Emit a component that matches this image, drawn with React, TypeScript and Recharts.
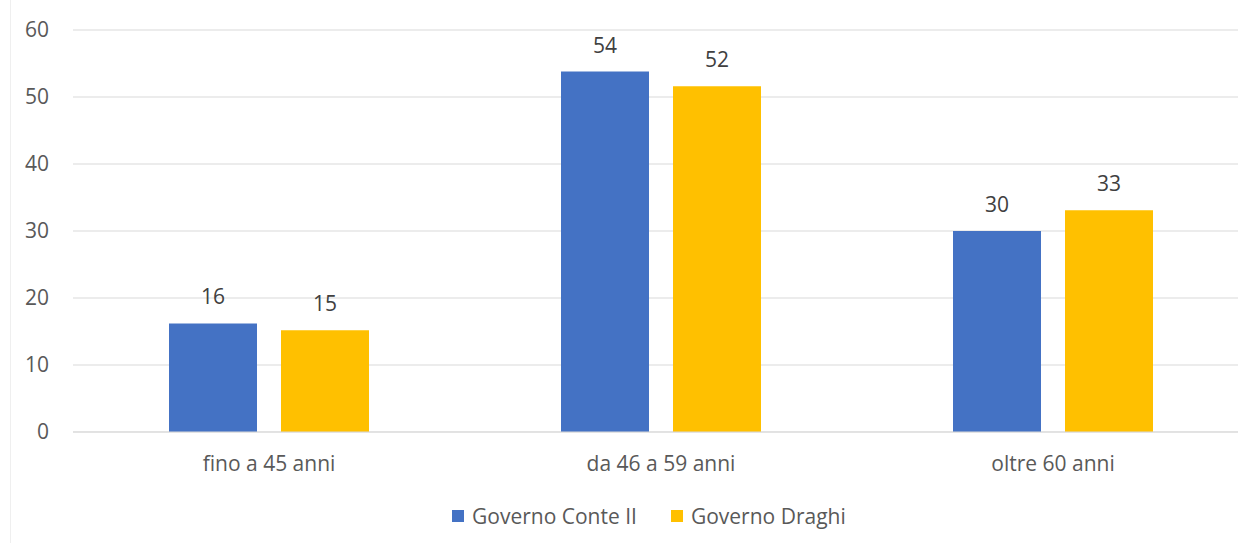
import React from "react";
import { BarChart, Bar, XAxis, YAxis, CartesianGrid, Legend, LabelList } from "recharts";

const categories = ["fino a 45 anni", "da 46 a 59 anni", "oltre 60 anni"];
const conteValues = [16.2, 53.8, 30.0];
const draghiValues = [15.2, 51.6, 33.1];
const yTicks = [0, 10, 20, 30, 40, 50, 60];
const seriesNames = ["Governo Conte II", "Governo Draghi"];
const seriesColors = ["#4472C4", "#FFC000"];

const data = categories.map((c, i) => ({ name: c, conte: conteValues[i], draghi: draghiValues[i] }));

const FONT = "'Open Sans', 'Noto Sans', sans-serif";
const TEXT = "#595959";
const FS = 21;

const LegendContent = () => (
  <div style={{ display: "flex", alignItems: "center", fontFamily: FONT, fontSize: FS, color: TEXT, whiteSpace: "nowrap" }}>
    {seriesNames.map((n, i) => (
      <div key={n} style={{ display: "flex", alignItems: "center", marginRight: i === 0 ? 34 : 0 }}>
        <span style={{ display: "inline-block", width: 12, height: 12, background: seriesColors[i], marginRight: 8 }} />
        <span>{n}</span>
      </div>
    ))}
  </div>
);

export default function App() {
  return (
    <div style={{ position: "absolute", left: 0, top: 0, width: 1238, height: 543, overflow: "hidden", background: "#fff" }}>
      <div style={{ position: "absolute", left: 10, top: 0, width: 1, height: 543, background: "#efefef" }} />
      <BarChart
        width={1260}
        height={543}
        data={data}
        margin={{ top: 30, right: 11, left: 0, bottom: 0 }}
        barCategoryGap={96}
        barGap={24}
      >
        <CartesianGrid vertical={false} stroke="#d9d9d9" strokeWidth={1} />
        <XAxis
          dataKey="name"
          height={111}
          tickLine={false}
          axisLine={{ stroke: "#d9d9d9" }}
          tickSize={0}
          tickMargin={24}
          tick={{ fill: TEXT, fontSize: FS, fontFamily: FONT }}
        />
        <YAxis
          width={73}
          domain={[0, 60]}
          ticks={yTicks}
          axisLine={false}
          tickLine={false}
          tickSize={0}
          tickMargin={24}
          tick={{ fill: TEXT, fontSize: FS, fontFamily: FONT }}
        />
        <Legend
          layout="horizontal"
          verticalAlign="middle"
          align="center"
          wrapperStyle={{ position: "absolute", left: 452, top: 502, width: "auto" }}
          content={<LegendContent />}
        />
        <Bar dataKey="conte" name={seriesNames[0]} fill={seriesColors[0]} isAnimationActive={false}>
          <LabelList dataKey="conte" position="top" offset={19} formatter={(v: number) => Math.round(v)} style={{ fill: "#404040", fontSize: FS, fontFamily: FONT }} />
        </Bar>
        <Bar dataKey="draghi" name={seriesNames[1]} fill={seriesColors[1]} isAnimationActive={false}>
          <LabelList dataKey="draghi" position="top" offset={19} formatter={(v: number) => Math.round(v)} style={{ fill: "#404040", fontSize: FS, fontFamily: FONT }} />
        </Bar>
      </BarChart>
    </div>
  );
}
